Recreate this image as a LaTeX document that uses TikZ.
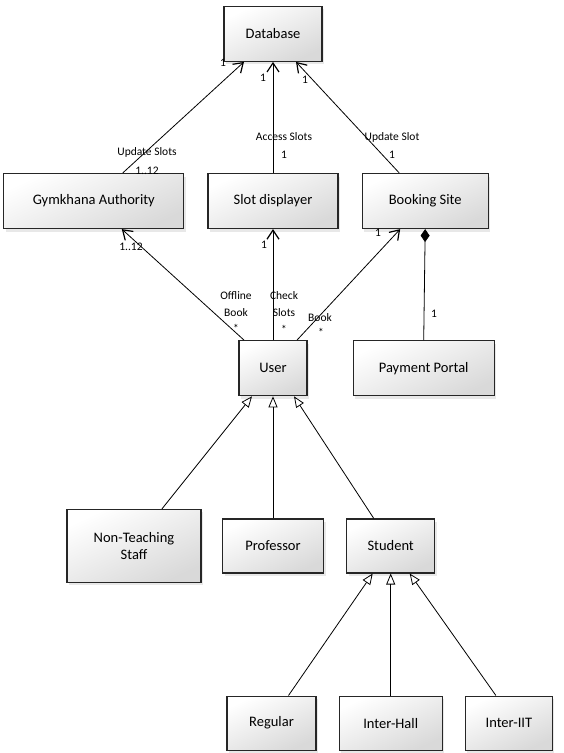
\documentclass[tikz,border=0pt]{standalone}
\usepackage{fontspec}
\setmainfont{Carlito}
\usetikzlibrary{arrows.meta,positioning,shadows}

\begin{document}
\begin{tikzpicture}[
    x=1pt, y=-1pt,
    node distance=22pt,
    font=\fontsize{14.5}{17}\selectfont,
    cls/.style={
		rectangle,
		draw=black!85,
		line width=1.2pt,
		text centered,
		minimum height=55pt,
		top color=white,
		bottom color=black!15,
		shading angle=25,
		drop shadow={shadow xshift=2pt, shadow yshift=-3pt, opacity=0.18}
	},
	mult/.style={
		font=\fontsize{11.5}{13}\selectfont,
		inner sep=1pt
	},
	assoc/.style={
		-{Straight Barb[length=9pt,width=12pt,line width=1.2pt]},
		line width=0.8pt
	},
	isa/.style={
		-{Triangle[open,length=11pt,width=9pt,line width=0.8pt]},
		line width=0.8pt
	},
	comp/.style={
		{Diamond[length=13pt,width=9pt]}-,
		line width=0.8pt
	}
  ]

\useasboundingbox (0,0) rectangle (564,753);

% // top row
 \node [cls, minimum width=130pt] (slots) at (273,201) {Slot displayer};
 \node [cls, minimum width=98pt, above=111pt of slots] (db) {Database};
 \node [cls, minimum width=180pt, left=23pt of slots] (gym) {Gymkhana Authority};
 \node [cls, minimum width=126pt, right=23pt of slots] (booking) {Booking Site};

% // users
 \node [cls, minimum width=68pt, below=111pt of slots] (user) {User};
 \node [cls, minimum width=141pt, right=45pt of user] (payment) {Payment Portal};
 \node [cls, minimum width=101pt, minimum height=54pt, below=122pt of user] (prof) {Professor};
 \node [cls, minimum width=134pt, minimum height=73pt, left of=prof, node distance=139pt,
   align=center] (staff) {Non-Teaching\\Staff};
 \node [cls, minimum width=88pt, minimum height=54pt, right=of prof] (student) {Student};

% // students
 \node [cls, minimum width=103pt, minimum height=54pt, below=122pt of student] (hall) {Inter-Hall};
 \node [cls, minimum width=89pt, minimum height=54pt, left=of hall] (regular) {Regular};
 \node [cls, minimum width=87pt, minimum height=54pt, right=of hall] (iit) {Inter-IIT};

% // associations to the database
 \draw [assoc] ([xshift=29pt]gym.north) -- ([xshift=-29pt]db.south);
 \draw [assoc] (slots.north) -- (slots.north |- db.south);
 \draw [assoc] ([xshift=-26pt]booking.north) -- ([xshift=23pt]db.south);

 \node [mult] (m1) at (147,152) {Update Slots};
 \node [mult] (m2) at (147,171) {1..12};
 \node [mult] (m3) at (223,63) {1};
 \node [mult] (m4) at (284,137) {Access Slots};
 \node [mult] (m5) at (284,155) {1};
 \node [mult] (m6) at (263,78) {1};
 \node [mult] (m7) at (392,137) {Update Slot};
 \node [mult] (m8) at (392,155) {1};
 \node [mult] (m9) at (305,80) {1};

% // user associations
 \draw [assoc] ([xshift=-29pt]user.north) -- ([xshift=28pt]gym.south);
 \draw [assoc] (user.north) -- (user.north |- slots.south);
 \draw [assoc] ([xshift=24pt]user.north) -- ([xshift=-25pt]booking.south);
 \draw [comp] (booking.south) -- (payment.north);

 \node [mult, align=center] (m10) at (236,304) {Offline\\[4pt]Book};
 \node [mult] (m11) at (236,328) {*};
 \node [mult] (m12) at (131,247) {1..12};
 \node [mult, align=center] (m13) at (284,304) {Check\\[4pt]Slots};
 \node [mult] (m14) at (284,329) {*};
 \node [mult] (m15) at (264,245) {1};
 \node [mult] (m16) at (320,318) {Book};
 \node [mult] (m17) at (321,332) {*};
 \node [mult] (m18) at (378,233) {1};
 \node [mult] (m19) at (434,314) {1};

% // generalisations
 \draw [isa] ([xshift=28pt]staff.north) -- ([xshift=-21pt]user.south);
 \draw [isa] (prof.north) -- (prof.north |- user.south);
 \draw [isa] ([xshift=-17pt]student.north) -- ([xshift=21pt]user.south);

 \draw [isa] ([xshift=17pt]regular.north) -- ([xshift=-18pt]student.south);
 \draw [isa] (hall.north) -- (hall.north |- student.south);
 \draw [isa] ([xshift=-13pt]iit.north) -- ([xshift=19pt]student.south);

\end{tikzpicture}
\end{document}
